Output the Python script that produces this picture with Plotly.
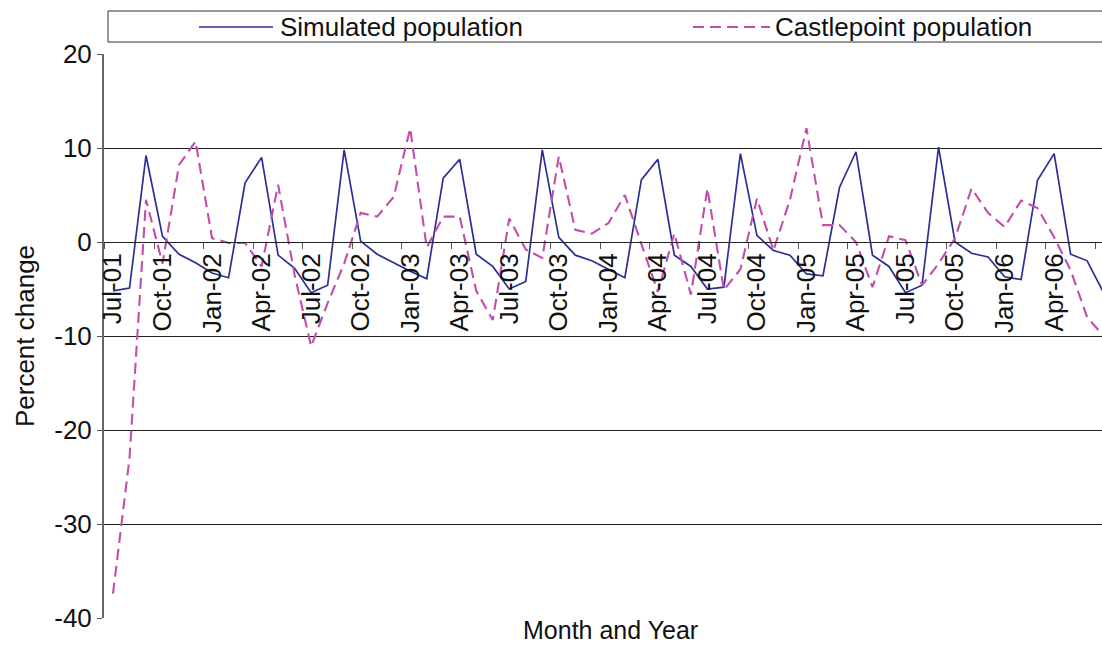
import pandas as pd
import plotly.graph_objects as go

# Monthly categories, Jul-01 .. Jul-06
months = list(pd.date_range("2001-07-01", periods=61, freq="MS").strftime("%b-%y"))
tick_labels = months[::3]

simulated = [
    -5.2, -4.9, 9.2, 0.6, -1.3, -2.2, -3.3, -3.8, 6.3, 9.0,
    -1.4, -2.8, -5.4, -4.6, 9.8, 0.1, -1.3, -2.2, -3.1, -3.9,
    6.8, 8.8, -1.3, -2.6, -5.0, -4.2, 9.8, 0.5, -1.4, -2.0,
    -2.9, -3.8, 6.6, 8.8, -1.4, -2.6, -5.0, -4.8, 9.4, 0.7,
    -0.9, -1.4, -3.4, -3.6, 5.8, 9.6, -1.4, -2.6, -5.4, -4.6,
    10.1, 0.0, -1.2, -1.6, -3.7, -4.0, 6.6, 9.4, -1.3, -2.0,
    -5.4,
]
castlepoint = [
    -37.4, -23.0, 4.5, -2.3, 8.2, 10.7, 0.4, -0.1, -0.1, -2.6,
    6.1, -3.5, -11.1, -6.5, -2.3, 3.1, 2.7, 4.8, 12.1, -0.6,
    2.7, 2.7, -5.2, -8.3, 2.5, -0.8, -1.7, 9.1, 1.3, 0.9,
    2.0, 5.0, -0.2, -5.3, 0.9, -5.6, 5.7, -5.1, -2.9, 4.6,
    -0.9, 4.5, 12.1, 1.8, 1.8, 0.0, -4.8, 0.6, 0.2, -4.6,
    -2.3, 0.4, 5.7, 3.1, 1.6, 4.4, 3.6, 0.5, -3.0, -8.0,
    -10.0,
]
y_ticks = [-40, -30, -20, -10, 0, 10, 20]

FONT = "Liberation Sans, Arial, sans-serif"
BLUE = "#2B2E96"
PINK = "#C24DAA"
DASH = "11px,6px"

W, H = 1102, 646
L, R, T, B = 104, 0, 54, 28
PW, PH = W - L - R, H - T - B

idx = list(range(len(months)))


def px_x(p):
    return (p - L) / PW


def px_y(p):
    return (H - B - p) / PH


fig = go.Figure()
fig.add_trace(go.Scatter(x=idx, y=simulated, mode="lines", name="Simulated population",
                         line=dict(color=BLUE, width=1.7), showlegend=False))
fig.add_trace(go.Scatter(x=idx, y=castlepoint, mode="lines", name="Castlepoint population",
                         line=dict(color=PINK, width=2.1, dash=DASH), showlegend=False))

zero_pos = (0 - (-40)) / 60.0

fig.update_layout(
    width=W, height=H,
    margin=dict(l=L, r=R, t=T, b=B, pad=0),
    paper_bgcolor="white", plot_bgcolor="white",
    font=dict(family=FONT, size=26, color="#111"),
    xaxis=dict(
        range=[-0.545, 59.9], anchor="free", position=zero_pos,
        tickmode="array", tickvals=idx[::3], ticktext=tick_labels,
        tickangle=-90, ticks="", ticklen=0,
        minor=dict(tickmode="array", tickvals=[v - 0.5 for v in idx[::3]],
                   ticks="outside", ticklen=6, tickcolor="#555", showgrid=False),
        showgrid=False, zeroline=False, showline=True, linecolor="#222", linewidth=1,
        tickfont=dict(family=FONT, size=26, color="#111"),
    ),
    yaxis=dict(
        range=[-40, 20], tickmode="array", tickvals=y_ticks,
        ticktext=[str(v) for v in y_ticks],
        ticks="outside", ticklen=5, tickcolor="#555",
        showgrid=True, gridcolor="#222", gridwidth=1,
        zeroline=False, showline=True, linecolor="#666", linewidth=2,
        title=dict(text="Percent change", standoff=12, font=dict(family=FONT, size=26)),
        tickfont=dict(family=FONT, size=26, color="#111"),
    ),
)

# x-axis title along the bottom edge
fig.add_annotation(text="Month and Year", xref="paper", yref="paper",
                   x=px_x(610), y=px_y(630), xanchor="center", yanchor="middle",
                   borderpad=0, showarrow=False,
                   font=dict(family=FONT, size=25, color="#111"))

# Legend drawn as a framed strip above the plot
fig.add_shape(type="rect", xref="paper", yref="paper",
              x0=px_x(108), x1=px_x(1110), y0=px_y(42), y1=px_y(11),
              line=dict(color="#333", width=1), fillcolor="white", layer="above")
fig.add_shape(type="line", xref="paper", yref="paper",
              x0=px_x(199), x1=px_x(273), y0=px_y(27), y1=px_y(27),
              line=dict(color=BLUE, width=1.7))
fig.add_shape(type="line", xref="paper", yref="paper",
              x0=px_x(693), x1=px_x(770), y0=px_y(27), y1=px_y(27),
              line=dict(color=PINK, width=2.1, dash=DASH))
fig.add_annotation(text="Simulated population", xref="paper", yref="paper",
                   x=px_x(278), y=px_y(27), xanchor="left", yanchor="middle",
                   showarrow=False, font=dict(family=FONT, size=26, color="#111"))
fig.add_annotation(text="Castlepoint population", xref="paper", yref="paper",
                   x=px_x(773), y=px_y(27), xanchor="left", yanchor="middle",
                   showarrow=False, font=dict(family=FONT, size=26, color="#111"))

fig.write_html("out.html")
